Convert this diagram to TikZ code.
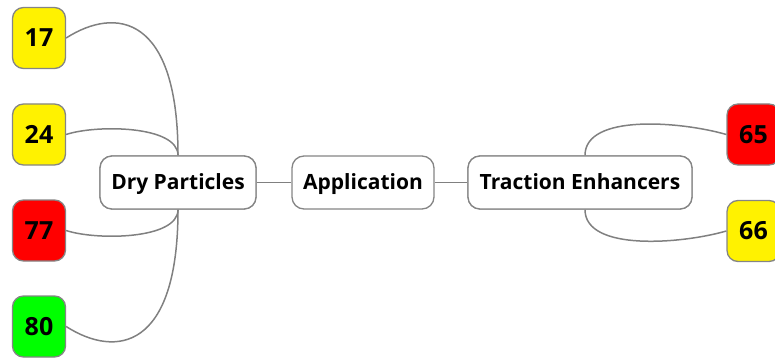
\documentclass[tikz,border=0pt]{standalone}
\usepackage{fontspec}
\setmainfont{Open Sans}
\definecolor{edgegray}{HTML}{808080}
\definecolor{boxgray}{HTML}{858585}
\begin{document}
\begin{tikzpicture}[x=1pt,y=-1pt,
  topic/.style={draw=boxgray, line width=1.3pt, rounded corners=12pt, fill=white,
    minimum width=#1, minimum height=53pt, inner sep=0pt,
    text height=17pt, text depth=4pt,
    font=\fontsize{21}{25}\selectfont\bfseries},
  leaf/.style={draw=boxgray, line width=1.3pt, rounded corners=11pt, fill=#1,
    minimum width=53pt, minimum height=61pt, inner sep=0pt,
    font=\fontsize{25}{29}\selectfont\bfseries},
  link/.style={draw=edgegray, line width=1.5pt}]
\useasboundingbox (0,0) rectangle (775,358);
\clip (0,0) rectangle (775,358);

% central chain
\node[topic=156pt] (dry) at (178,182.5) {Dry Particles};
\node[topic=142pt] (app) at (363,182.5) {Application};
\node[topic=224pt] (te)  at (580,182.5) {Traction Enhancers};

% leaves
\node[leaf=yellow] (n17) at (39,38)    {17};
\node[leaf=yellow] (n24) at (39,134.5) {24};
\node[leaf=red]    (n77) at (39,230.5) {77};
\node[leaf=green]  (n80) at (39,326.5) {80};
\node[leaf=red]    (n65) at (753.5,134.5) {65};
\node[leaf=yellow] (n66) at (753.5,231)   {66};

\coordinate (tetop) at ([xshift=5pt]te.north);
\coordinate (tebot) at ([xshift=5pt]te.south);

% straight links
\draw[link] (dry.east) -- (app.west);
\draw[link] (app.east) -- (te.west);

% curved links on the left
\draw[link] (n17.east) .. controls +(50,-32) and +(0,-140) .. (dry.north);
\draw[link] (n24.east) .. controls +(30,-10) and +(0,-30) .. (dry.north);
\draw[link] (n77.east) .. controls +(30,10) and +(0,30) .. (dry.south);
\draw[link] (n80.east) .. controls +(50,32) and +(0,140) .. (dry.south);

% curved links on the right
\draw[link] (n65.west) .. controls +(-45,-13) and +(0,-42) .. (tetop);
\draw[link] (n66.west) .. controls +(-45,13) and +(0,42) .. (tebot);

% redraw boxes over link ends
\node[topic=156pt] at (dry) {Dry Particles};
\node[topic=224pt] at (te) {Traction Enhancers};
\end{tikzpicture}
\end{document}
